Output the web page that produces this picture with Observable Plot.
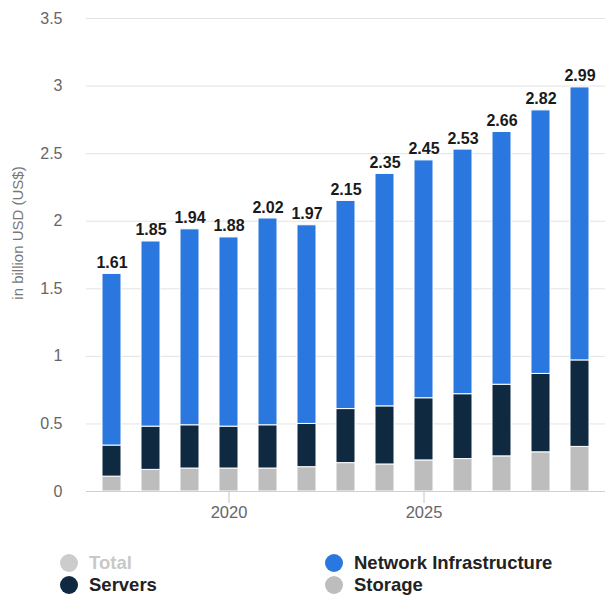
<!DOCTYPE html>
<html>
<head>
<meta charset="utf-8">
<script src="https://cdn.jsdelivr.net/npm/d3@7"></script>
<script src="https://cdn.jsdelivr.net/npm/@observablehq/plot@0.6"></script>
<style>
  html, body { margin: 0; padding: 0; background: #fff; }
  body { width: 607px; height: 595px; overflow: hidden; font-family: "Liberation Sans", Arial, sans-serif; position: relative; }
  #chart { position: absolute; left: 0; top: 0; }
  .legend { position: absolute; left: 0; top: 0; width: 607px; }
  .item { position: absolute; display: flex; align-items: center; font-weight: bold; font-size: 18.5px; color: #222; }
  .dot { width: 18px; height: 18px; border-radius: 50%; margin-right: 11px; }
</style>
</head>
<body>
<div id="chart"></div>
<div class="legend" id="legend"></div>
<script>
const years = [2017, 2018, 2019, 2020, 2021, 2022, 2023, 2024, 2025, 2026, 2027, 2028, 2029];
const totals = [1.61, 1.85, 1.94, 1.88, 2.02, 1.97, 2.15, 2.35, 2.45, 2.53, 2.66, 2.82, 2.99];
const storage = [0.11, 0.16, 0.17, 0.17, 0.17, 0.18, 0.21, 0.20, 0.23, 0.24, 0.26, 0.29, 0.33];
const servers = [0.23, 0.32, 0.32, 0.31, 0.32, 0.32, 0.40, 0.43, 0.46, 0.48, 0.53, 0.58, 0.64];
const network = totals.map((t, i) => +(t - storage[i] - servers[i]).toFixed(2));
const seriesNames = ["Storage", "Servers", "Network Infrastructure"];
const seriesColors = ["#bdbdbd", "#0f2940", "#2a78df"];
const yTicks = [0, 0.5, 1, 1.5, 2, 2.5, 3, 3.5];
const xTicks = [2020, 2025];

const table = [];
years.forEach((y, i) => {
  table.push({year: y, series: "Storage", value: storage[i]});
  table.push({year: y, series: "Servers", value: servers[i]});
  table.push({year: y, series: "Network Infrastructure", value: network[i]});
});
const totalRows = years.map((y, i) => ({year: y, total: totals[i]}));

const plot = Plot.plot({
  width: 607,
  height: 540,
  marginLeft: 86,
  marginRight: 2,
  marginTop: 18,
  marginBottom: 49,
  style: {fontFamily: "'Liberation Sans', Arial, sans-serif", background: "#fff"},
  x: {type: "band", domain: years, paddingInner: 0.52, paddingOuter: 0.29, label: null},
  y: {domain: [0, 3.5], label: null},
  color: {domain: seriesNames, range: seriesColors},
  marks: [
    Plot.gridY(yTicks, {stroke: "#e3e3e3", strokeOpacity: 1}),
    Plot.barY(table, Plot.stackY({x: "year", y: "value", fill: "series", order: seriesNames, stroke: "#fff", strokeWidth: 1})),
    Plot.ruleY([0], {stroke: "#d0d0d0"}),
    Plot.axisY(yTicks, {tickSize: 0, tickPadding: 24, fontSize: 16, fill: "#666", label: null, tickFormat: d => String(d)}),
    Plot.axisX(xTicks, {tickSize: 12, stroke: "#c4c4c4", tickPadding: 3, fontSize: 16.5, fill: "#666", label: null, tickFormat: d => String(d)}),
    Plot.text(totalRows, {x: "year", y: "total", text: d => d.total.toFixed(2), lineAnchor: "bottom", dy: -6, fontSize: 16, fontWeight: "bold", fill: "#1a1a1a"}),
    Plot.text(["in billion USD (US$)"], {frameAnchor: "left", textAnchor: "middle", rotate: -90, dx: -68, dy: -22, fontSize: 15, fill: "#777"})
  ]
});
document.getElementById("chart").appendChild(plot);

const legendItems = [
  {name: "Total", color: "#cccccc", text: "#c8c8c8", left: 60, top: 552},
  {name: "Servers", color: "#0f2940", text: "#222", left: 60, top: 574},
  {name: "Network Infrastructure", color: "#2a78df", text: "#222", left: 325, top: 552},
  {name: "Storage", color: "#bdbdbd", text: "#222", left: 325, top: 574}
];
const legend = document.getElementById("legend");
legendItems.forEach(it => {
  const d = document.createElement("div");
  d.className = "item";
  d.style.left = it.left + "px";
  d.style.top = it.top + "px";
  d.style.color = it.text;
  d.innerHTML = `<span class="dot" style="background:${it.color}"></span><span>${it.name}</span>`;
  legend.appendChild(d);
});
</script>
</body>
</html>
